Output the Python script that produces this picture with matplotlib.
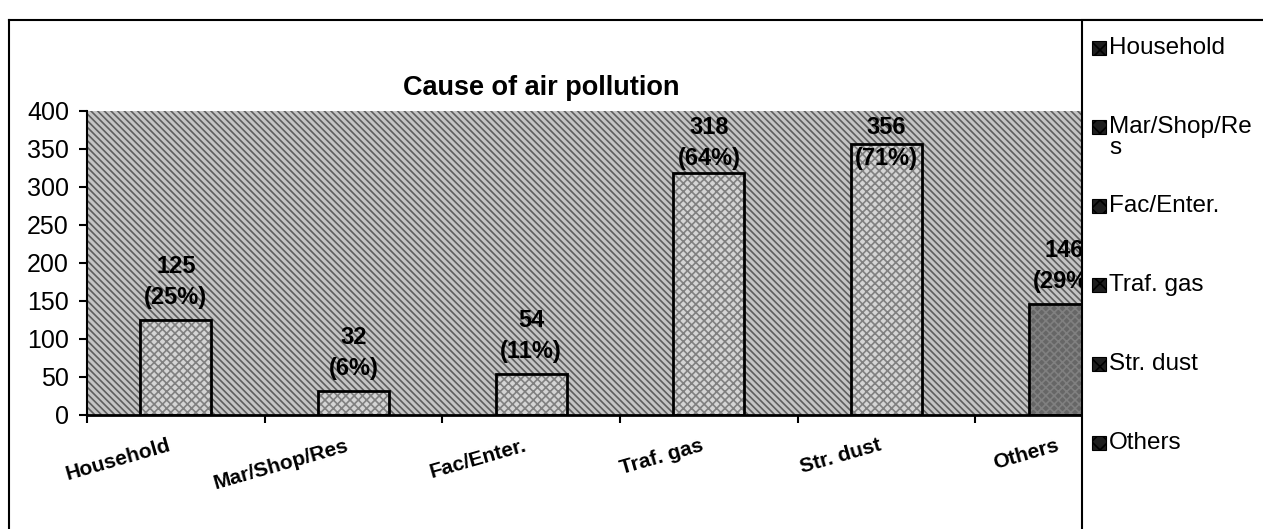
import numpy as np
import matplotlib.pyplot as plt
from matplotlib.patches import Rectangle

# data
categories = ['Household', 'Mar/Shop/Res', 'Fac/Enter.', 'Traf. gas', 'Str. dust', 'Others']
legend_labels = ['Household', 'Mar/Shop/Re\ns', 'Fac/Enter.', 'Traf. gas', 'Str. dust', 'Others']
counts = [125, 32, 54, 318, 356, 146]
percents = [25, 6, 11, 64, 71, 29]
y_ticks = [0, 50, 100, 150, 200, 250, 300, 350, 400]

plt.rcParams['font.family'] = ['Liberation Sans', 'DejaVu Sans']
plt.rcParams['hatch.linewidth'] = 1.2

W, H = 1263, 529
fig = plt.figure(figsize=(W / 100, H / 100), dpi=100)

# plot area (runs under the legend box on the right)
left, right, top, bottom = 87, 87 + 6 * 177.7, 111, 415
ax = fig.add_axes([left / W, 1 - bottom / H, (right - left) / W, (bottom - top) / H])
ax.set_facecolor('#c4c4c4')
ax.add_patch(Rectangle((0, 0), 1, 1, transform=ax.transAxes, facecolor='none',
                       edgecolor='#5e5e5e', hatch='\\\\\\\\\\', lw=0, zorder=0))

x = np.arange(len(categories))
fills = ['#d4d4d4'] * 5 + ['#666666']
ax.bar(x, counts, width=0.4, color=fills, edgecolor='#808080', hatch='xxxx', lw=0, zorder=2)
ax.bar(x, counts, width=0.4, color='none', edgecolor='black', lw=2, zorder=3)

ax.set_xlim(-0.5, len(categories) - 0.5)
ax.set_ylim(0, 400)
ax.set_yticks(y_ticks)
ax.set_yticklabels([str(t) for t in y_ticks], fontsize=18)
ax.tick_params(axis='y', length=6, width=1.5, pad=7)

# ticks at category boundaries, labels at centers
ax.set_xticks(np.arange(len(categories) + 1) - 0.5)
ax.set_xticklabels([])
ax.tick_params(axis='x', length=6, width=1.5, direction='out')
for i, c in enumerate(categories):
    ax.annotate(c, xy=(i, 0), xycoords=('data', 'axes fraction'), xytext=(-6, -15),
                textcoords='offset points', ha='right', va='top', rotation=16,
                rotation_mode='anchor', fontsize=15, fontweight='bold')

for side in ['top', 'right']:
    ax.spines[side].set_visible(False)
ax.spines['left'].set_linewidth(1.5)
ax.spines['bottom'].set_linewidth(2)

# data labels, kept inside the plot area
label_h = 76
for i, (c, p) in enumerate(zip(counts, percents)):
    y = min(c + 14, 398 - label_h)
    ax.text(i, y, f'{c}\n({p}%)', ha='center', va='bottom', fontsize=17,
            fontweight='bold', linespacing=1.45, zorder=4)

fig.text(541 / W, 1 - 88 / H, 'Cause of air pollution', ha='center', va='center',
         fontsize=19.5, fontweight='bold')

# outer chart border
fig.add_artist(plt.Line2D([9 / W, 9 / W], [0, 1 - 20 / H], color='black', lw=1.5))
fig.add_artist(plt.Line2D([9 / W, 1], [1 - 20 / H, 1 - 20 / H], color='black', lw=1.5))

# legend box drawn over the plot area
fig.add_artist(Rectangle((1082 / W, -0.01), 0.2, 1 - 20 / H + 0.01, transform=fig.transFigure,
                         facecolor='white', edgecolor='black', lw=1.5, zorder=10))
for i, lab in enumerate(legend_labels):
    yc = 1 - (48 + i * 79) / H
    fig.add_artist(Rectangle((1092 / W, yc - 7 / H), 14 / W, 14 / H, transform=fig.transFigure,
                             facecolor='#1e1e1e', edgecolor='black', hatch='xx', lw=0.8, zorder=11))
    fig.text(1109 / W, yc + 11 / H, lab, ha='left', va='top', fontsize=17.5,
             linespacing=0.95, zorder=12)

fig.savefig('out.png', dpi=100)
